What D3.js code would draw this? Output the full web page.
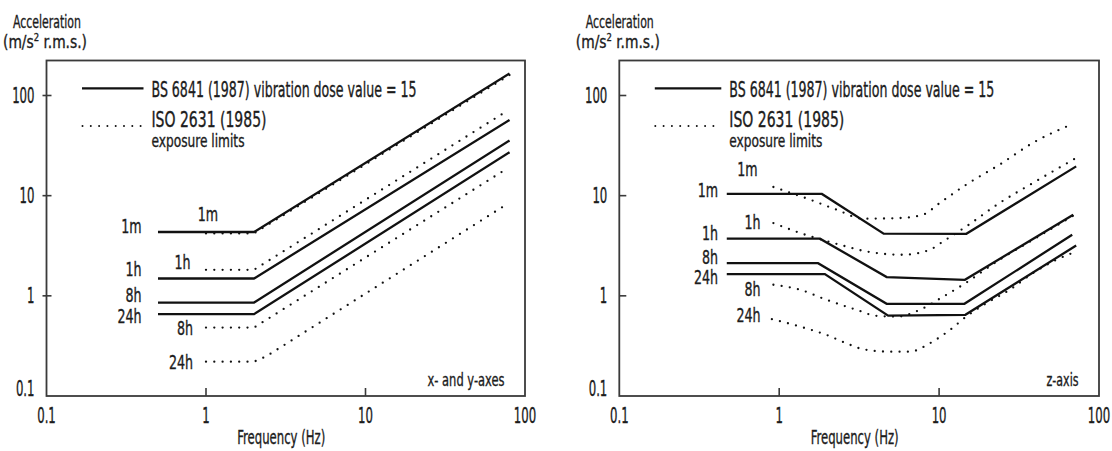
<!DOCTYPE html>
<html>
<head>
<meta charset="utf-8">
<script src="https://cdn.jsdelivr.net/npm/d3@7"></script>
<style>
  html, body { margin: 0; padding: 0; background: #fff; }
  svg { display: block; }
  text { font-family: "Liberation Sans Narrow", "DejaVu Sans Condensed", sans-serif; fill: #1c1c1c;
         stroke: #1c1c1c; stroke-width: 0.35; }
</style>
</head>
<body>
<svg id="chart" width="1112" height="451"></svg>
<script>
// axis ticks
var freqTicks = [0.1, 1, 10, 100];
var accelTicks = [0.1, 1, 10, 100];
var durations = ["1m", "1h", "8h", "24h"];

// x- and y-axes : BS 6841 (1987) vdv = 15   [frequency Hz, acceleration m/s2 rms]
var xyBs1m  = [[0.5, 4.34], [2, 4.34], [80, 166]];
var xyBs1h  = [[0.5, 1.49], [2, 1.49], [80, 57]];
var xyBs8h  = [[0.5, 0.857], [2, 0.857], [80, 35.5]];
var xyBs24h = [[0.5, 0.656], [2, 0.656], [80, 27.1]];

// x- and y-axes : ISO 2631 (1985) exposure limits
var xyIso1m  = [[1, 4.2], [2, 4.2], [80, 160]];
var xyIso1h  = [[1, 1.82], [2, 1.82], [75, 68]];
var xyIso8h  = [[1, 0.482], [2, 0.482], [75, 18.1]];
var xyIso24h = [[1, 0.22], [2, 0.22], [2.4, 0.25], [75, 8.0]];

// z-axis : BS 6841 (1987) vdv = 15
var zBs1m  = [[0.47, 10.4], [1.85, 10.4], [4.5, 4.17], [14.8, 4.16], [72, 19.6]];
var zBs1h  = [[0.47, 3.72], [1.8, 3.72], [4.7, 1.54], [14.5, 1.445], [69, 6.46]];
var zBs8h  = [[0.47, 2.12], [1.75, 2.12], [4.7, 0.832], [14.4, 0.832], [68, 4.07]];
var zBs24h = [[0.47, 1.65], [1.93, 1.65], [4.8, 0.635], [14.6, 0.646], [72, 3.18]];

// z-axis : ISO 2631 (1985) exposure limits
var zIso1m  = [[0.92, 12.2], [1.56, 9.12], [2.29, 7.24], [3.35, 5.89], [5.68, 5.98], [7.94, 6.46],
               [10.1, 8.45], [14.8, 12.9], [23.9, 20.4], [38.7, 33.7], [67, 51.3]];
var zIso1h  = [[0.92, 5.33], [1.35, 4.24], [2.39, 3.24], [3.52, 2.77], [5.96, 2.57], [8.75, 2.88],
               [10.6, 3.49], [14.8, 4.93], [23.9, 8.45], [38.7, 13.4], [72, 23.8]];
var zIso8h  = [[0.92, 1.29], [1.35, 1.15], [1.98, 0.912], [3.05, 0.724], [4.06, 0.631], [5.5, 0.62],
               [7.57, 0.724], [10.6, 0.98], [14.1, 1.29], [23.9, 2.29], [38.7, 3.63], [70.7, 6.46]];
var zIso24h = [[0.9, 0.585], [1.35, 0.493], [1.98, 0.407], [2.63, 0.336], [3.35, 0.293], [4.92, 0.277],
               [6.56, 0.277], [8.75, 0.336], [11.7, 0.457], [14.8, 0.621], [19.8, 0.845], [27.7, 1.15],
               [38.7, 1.69], [54.2, 2.29], [72, 2.77]];

var legendSolid = "BS 6841 (1987) vibration dose value = 15";
var legendDotted = "ISO 2631 (1985)";
var legendDotted2 = "exposure limits";

// layout
var yTop = 60.5, yBottom = 396, y100 = 95.5;

var panels = [
    {
        left: 46.5, right: 525, legendX: 105, crossTicks: true,
        note: "x- and y-axes", noteWidth: 77,
        bs: [xyBs1m, xyBs1h, xyBs8h, xyBs24h],
        iso: [xyIso1m, xyIso1h, xyIso8h, xyIso24h],
        isoCurve: d3.curveLinear,
        // label placement, relative to the panel's left edge
        bsLabels: [[95, 232.5], [95, 276], [95, 301.8], [95, 322.8]],
        isoLabels: [[161.5, 220.8], [144, 269], [146.5, 334.8], [146.5, 368.5]]
    },
    {
        left: 619.3, right: 1099, legendX: 110, crossTicks: false,
        note: "z-axis", noteWidth: 32,
        bs: [zBs1m, zBs1h, zBs8h, zBs24h],
        iso: [zIso1m, zIso1h, zIso8h, zIso24h],
        isoCurve: d3.curveMonotoneX,
        bsLabels: [[98.7, 196.8], [98.7, 240], [98.7, 264], [98.7, 283.5]],
        isoLabels: [[128, 175.8], [141.2, 228.5], [141.2, 296], [141.2, 321.8]]
    }
];

var svg = d3.select("#chart");

// narrow text helper: squeeze horizontally
function squeezed(g, x, y, str, size, anchor, sx) {
    return g.append("text")
        .attr("transform", "translate(" + x + "," + y + ") scale(" + sx + ",1)")
        .attr("text-anchor", anchor)
        .style("font-size", size + "px")
        .text(str);
}

// fitted text: given width
function fitted(g, x, y, str, size, anchor, w) {
    return g.append("text")
        .attr("x", x).attr("y", y)
        .attr("text-anchor", anchor)
        .attr("textLength", w).attr("lengthAdjust", "spacingAndGlyphs")
        .style("font-size", size + "px")
        .text(str);
}

panels.forEach(function(p) {
    var g = svg.append("g");

    var x = d3.scaleLog().domain([0.1, 100]).range([p.left, p.right]);
    var y = d3.scaleLog().domain([0.1, 100]).range([yBottom, y100]);

    var line = d3.line()
        .x(function(d) { return x(d[0]); })
        .y(function(d) { return y(d[1]); });

    // frame
    g.append("rect")
        .attr("x", p.left).attr("y", yTop)
        .attr("width", p.right - p.left).attr("height", yBottom - yTop)
        .attr("fill", "none").attr("stroke", "#3a3a3a").attr("stroke-width", 1.8);

    // y ticks + labels
    accelTicks.forEach(function(t) {
        if (t > 0.1) {
            g.append("line")
                .attr("x1", p.crossTicks ? p.left - 4 : p.left).attr("x2", p.left + (p.crossTicks ? 5 : 7))
                .attr("y1", y(t)).attr("y2", y(t))
                .attr("stroke", "#3a3a3a").attr("stroke-width", 1.6);
        }
        var ty = t == 0.1 ? y(t) - 0.5 : y(t) + 7.5;
        squeezed(g, p.left - 12, ty, d3.format("~g")(t), 21, "end", 0.62);
    });

    // x ticks + labels
    freqTicks.forEach(function(t) {
        if (t > 0.1 && t < 100) {
            g.append("line")
                .attr("x1", x(t)).attr("x2", x(t))
                .attr("y1", yBottom).attr("y2", yBottom - 8)
                .attr("stroke", "#3a3a3a").attr("stroke-width", 1.6);
        }
        squeezed(g, x(t), 422.5, d3.format("~g")(t), 21, "middle", 0.62);
    });

    // axis titles
    fitted(g, p.left + 0.5, 27.5, "Acceleration", 18, "middle", 68);

    var unit = g.append("text")
        .attr("x", p.left - 1.5).attr("y", 48)
        .attr("text-anchor", "middle")
        .attr("textLength", 84).attr("lengthAdjust", "spacingAndGlyphs")
        .style("font-size", "18px");
    unit.append("tspan").text("(m/s");
    unit.append("tspan").attr("dy", -7).style("font-size", "11px").text("2");
    unit.append("tspan").attr("dy", 7).text(" r.m.s.)");

    fitted(g, (p.left + p.right) / 2 - 4.5, 444, "Frequency (Hz)", 20, "middle", 88);

    fitted(g, p.right - 20.5, 385.5, p.note, 18, "end", p.noteWidth);

    // legend
    g.append("line")
        .attr("x1", p.left + 35.5).attr("x2", p.legendX + p.left - 8)
        .attr("y1", 88.3).attr("y2", 88.3)
        .attr("stroke", "#111").attr("stroke-width", 2.2);
    fitted(g, p.left + p.legendX, 96.7, legendSolid, 20.5, "start", 265);

    g.append("line")
        .attr("x1", p.left + 36).attr("x2", p.legendX + p.left - 8)
        .attr("y1", 126).attr("y2", 126)
        .attr("stroke", "#111").attr("stroke-width", 2)
        .attr("stroke-linecap", "round").attr("stroke-dasharray", "0 8.3");
    fitted(g, p.left + p.legendX, 126.7, legendDotted, 20.5, "start", 115);
    fitted(g, p.left + p.legendX, 146.7, legendDotted2, 17.5, "start", 93);

    // ISO dotted curves
    g.selectAll("path.iso")
        .data(p.iso)
        .enter()
        .append("path")
        .attr("class", "iso")
        .attr("d", line.curve(p.isoCurve))
        .attr("fill", "none")
        .attr("stroke", "#111")
        .attr("stroke-width", 2.3)
        .attr("stroke-linecap", "round")
        .attr("stroke-dasharray", "0 8.3");

    // BS solid lines
    var solid = d3.line()
        .x(function(d) { return x(d[0]); })
        .y(function(d) { return y(d[1]); });
    g.selectAll("path.bs")
        .data(p.bs)
        .enter()
        .append("path")
        .attr("class", "bs")
        .attr("d", solid)
        .attr("fill", "none")
        .attr("stroke", "#111")
        .attr("stroke-width", 2.3);

    // duration labels
    durations.forEach(function(d, i) {
        squeezed(g, p.left + p.bsLabels[i][0], p.bsLabels[i][1], d, 19, "end", 0.74);
        squeezed(g, p.left + p.isoLabels[i][0], p.isoLabels[i][1], d, 19, i == 0 ? "middle" : "end", 0.74);
    });
});
</script>
</body>
</html>
